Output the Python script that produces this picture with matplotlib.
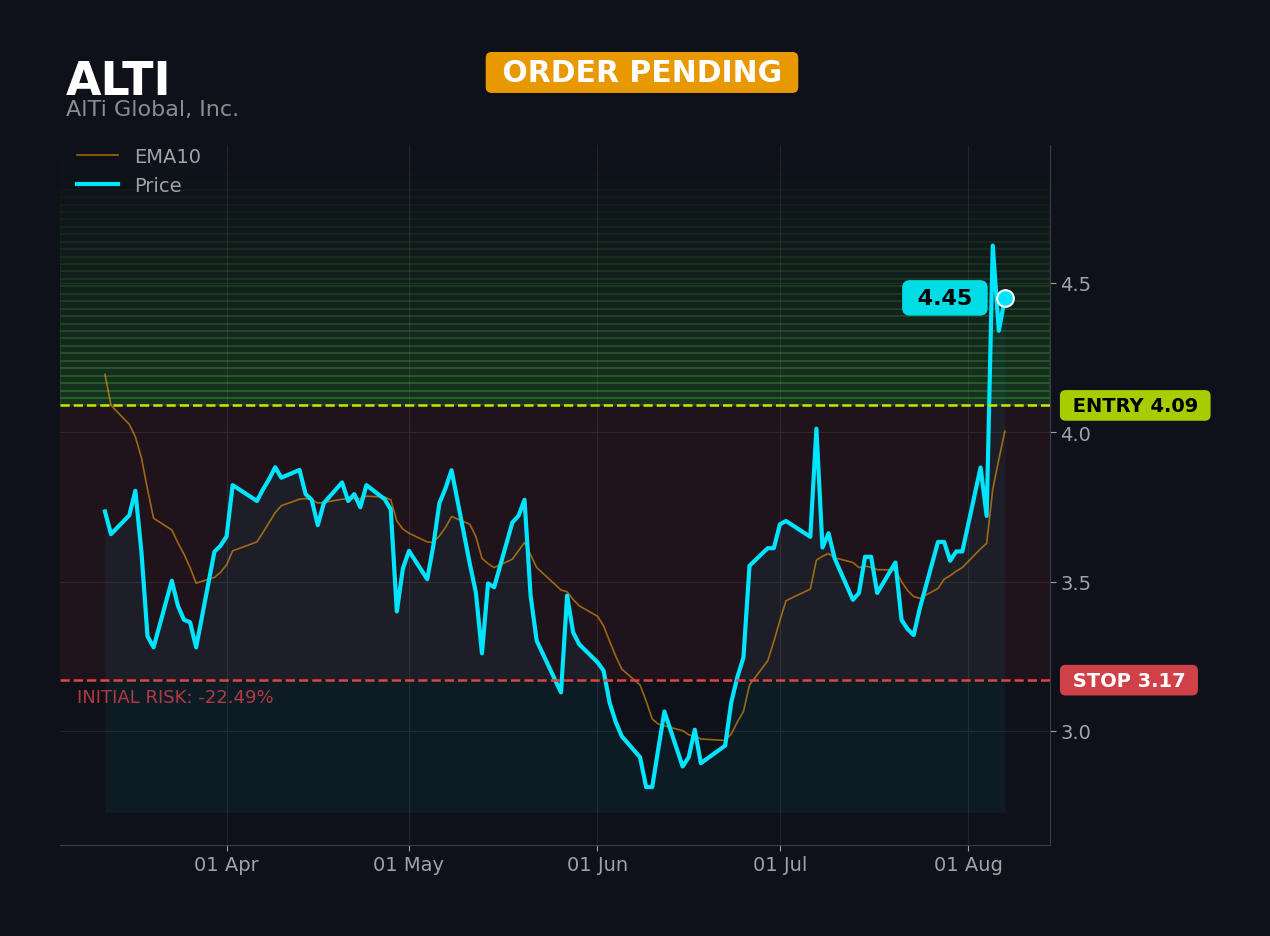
import numpy as np
import pandas as pd
import matplotlib
matplotlib.use("Agg")
import matplotlib.pyplot as plt
import matplotlib.dates as mdates
from matplotlib.ticker import MultipleLocator, FormatStrFormatter

# trading days shown on the chart
holidays = ["2026-04-03", "2026-05-25", "2026-06-19", "2026-07-03"]
dates = pd.bdate_range("2026-03-12", "2026-08-07")
dates = dates[~dates.isin(pd.to_datetime(holidays))]

price = [
    # Mar
    3.735, 3.659, 3.722, 3.804, 3.600, 3.317, 3.280, 3.503, 3.419, 3.372, 3.364, 3.280, 3.600, 3.620,
    # Apr
    3.651, 3.823, 3.770, 3.809, 3.843, 3.883, 3.848, 3.874, 3.793, 3.774, 3.689, 3.763, 3.832, 3.770,
    3.793, 3.749, 3.823, 3.776, 3.742, 3.400, 3.544,
    # May
    3.603, 3.508, 3.620, 3.763, 3.812, 3.873, 3.560, 3.464, 3.260, 3.494, 3.481, 3.698, 3.720, 3.774,
    3.453, 3.302, 3.129, 3.453, 3.330, 3.290,
    # Jun
    3.230, 3.202, 3.094, 3.030, 2.982, 2.912, 2.812, 2.812, 2.940, 3.065, 2.881, 2.912, 3.004, 2.892,
    2.951, 3.096, 3.180, 3.246, 3.553, 3.612, 3.612,
    # Jul
    3.692, 3.703, 3.650, 4.012, 3.614, 3.662, 3.578, 3.439, 3.462, 3.583, 3.583, 3.462, 3.564, 3.372,
    3.341, 3.321, 3.410, 3.633, 3.633, 3.570, 3.601, 3.601,
    # Aug
    3.882, 3.720, 4.625, 4.340, 4.450,
]

ema10 = [
    4.194, 4.090, 4.027, 3.985, 3.915, 3.809, 3.712, 3.673, 3.630, 3.592, 3.547, 3.495, 3.514, 3.531,
    3.556, 3.603, 3.633, 3.665, 3.698, 3.731, 3.754, 3.776, 3.778, 3.774, 3.763, 3.765, 3.776, 3.776,
    3.779, 3.778, 3.786, 3.783, 3.774, 3.703, 3.676,
    3.662, 3.633, 3.631, 3.653, 3.681, 3.718, 3.692, 3.651, 3.578, 3.560, 3.547, 3.575, 3.603, 3.631,
    3.590, 3.547, 3.472, 3.466, 3.440, 3.419,
    3.384, 3.352, 3.300, 3.250, 3.207, 3.154, 3.100, 3.040, 3.023, 3.017, 3.001, 2.987, 2.984, 2.973,
    2.968, 2.990, 3.030, 3.065, 3.154, 3.235, 3.300,
    3.370, 3.436, 3.475, 3.572, 3.585, 3.594, 3.580, 3.564, 3.547, 3.552, 3.548, 3.540, 3.539, 3.500,
    3.470, 3.450, 3.444, 3.477, 3.508, 3.520, 3.535, 3.547,
    3.610, 3.628, 3.809, 3.910, 4.004,
]

ticker = "ALTI"
company = "AlTi Global, Inc."
status = "ORDER PENDING"
entry = 4.09
stop = 3.17
risk_pct = -22.49

BG = "#0e1119"
CYAN = "#00e5ff"
MUTED = "#a0a2a6"

price = np.array(price)
ema10 = np.array(ema10)
last = price[-1]

fig = plt.figure(figsize=(12.7, 9.37), dpi=100, facecolor=BG)
ax = fig.add_axes([0.0472, 0.0971, 0.7795, 0.7471])
ax.set_facecolor(BG)
ymin, ymax = 2.618, 4.962
ax.set_ylim(ymin, ymax)

# profit zone above entry: stacked fading bands
n_bands = 35
h = (ymax - entry) / n_bands
for i in range(n_bands):
    a = 0.2 * (1 - i / n_bands) ** 1.4
    ax.axhspan(entry + i * h, entry + (i + 1) * h, color="#40b83a", alpha=a, lw=1.5, zorder=1)

# risk zone between stop and entry
ax.axhspan(stop, entry, color="#ef4444", alpha=0.08, lw=0, zorder=1)

ax.fill_between(dates, price, price.min() * 0.97, color=CYAN, alpha=0.05, lw=0, zorder=2)
ax.plot(dates, ema10, color="#f59e0b", alpha=0.6, lw=1.2, label="EMA10", zorder=3)
ax.plot(dates, price, color=CYAN, lw=3, label="Price", zorder=4)
ax.plot(dates[-1], last, "o", ms=12, mfc=CYAN, mec="white", mew=1.5, zorder=6)

ax.axhline(entry, color="#c8e600", ls="--", lw=1.8, zorder=5)
ax.axhline(stop, color="#e04444", ls="--", lw=1.8, zorder=5)

ytr = ax.get_yaxis_transform()
ax.text(1.016, entry, f" ENTRY {entry:.2f} ", transform=ytr, ha="left", va="center",
        fontsize=14, fontweight="bold", color="black", clip_on=False,
        bbox=dict(boxstyle="round,pad=0.3", fc="#a8cc00", ec="none"))
ax.text(1.016, stop, f" STOP {stop:.2f} ", transform=ytr, ha="left", va="center",
        fontsize=14, fontweight="bold", color="white", clip_on=False,
        bbox=dict(boxstyle="round,pad=0.3", fc="#d04048", ec="none"))
ax.annotate(f" {last:.2f} ", xy=(dates[-1], last), xytext=(-18, 0), textcoords="offset points",
            ha="right", va="center", fontsize=16, fontweight="bold", color="black", zorder=7,
            bbox=dict(boxstyle="round,pad=0.35", fc="#00dce6", ec="none"))
ax.annotate(f"INITIAL RISK: {risk_pct:.2f}%", xy=(0.017, stop), xycoords=ytr,
            xytext=(0, -6), textcoords="offset points", ha="left", va="top",
            fontsize=13, color="#d04048", alpha=0.85)

# axes styling
ax.yaxis.tick_right()
ax.yaxis.set_major_locator(MultipleLocator(0.5))
ax.yaxis.set_major_formatter(FormatStrFormatter("%.1f"))
ax.xaxis.set_major_locator(mdates.MonthLocator())
ax.xaxis.set_major_formatter(mdates.DateFormatter("%d %b"))
ax.tick_params(colors=MUTED, labelsize=14, length=4)
for s in ["left", "top"]:
    ax.spines[s].set_visible(False)
for s in ["right", "bottom"]:
    ax.spines[s].set_color("#3a3d45")
ax.grid(True, color="#22242b", lw=0.8, zorder=0)
ax.set_axisbelow(True)

leg = ax.legend(loc="upper left", bbox_to_anchor=(0, 1.022), frameon=False,
                fontsize=14, labelspacing=0.5, handlelength=2.1)
for t in leg.get_texts():
    t.set_color(MUTED)

fig.text(0.052, 0.8985, ticker, color="white", fontsize=33, fontweight="bold", va="baseline")
fig.text(0.052, 0.8765, company, color="#8a8c90", fontsize=16, va="baseline")
fig.text(0.5055, 0.9216, f" {status} ", color="white", fontsize=21.5, fontweight="bold",
         ha="center", va="center",
         bbox=dict(boxstyle="round,pad=0.2", fc="#e89800", ec="none"))

fig.savefig("out.png", dpi=100, facecolor=BG)
